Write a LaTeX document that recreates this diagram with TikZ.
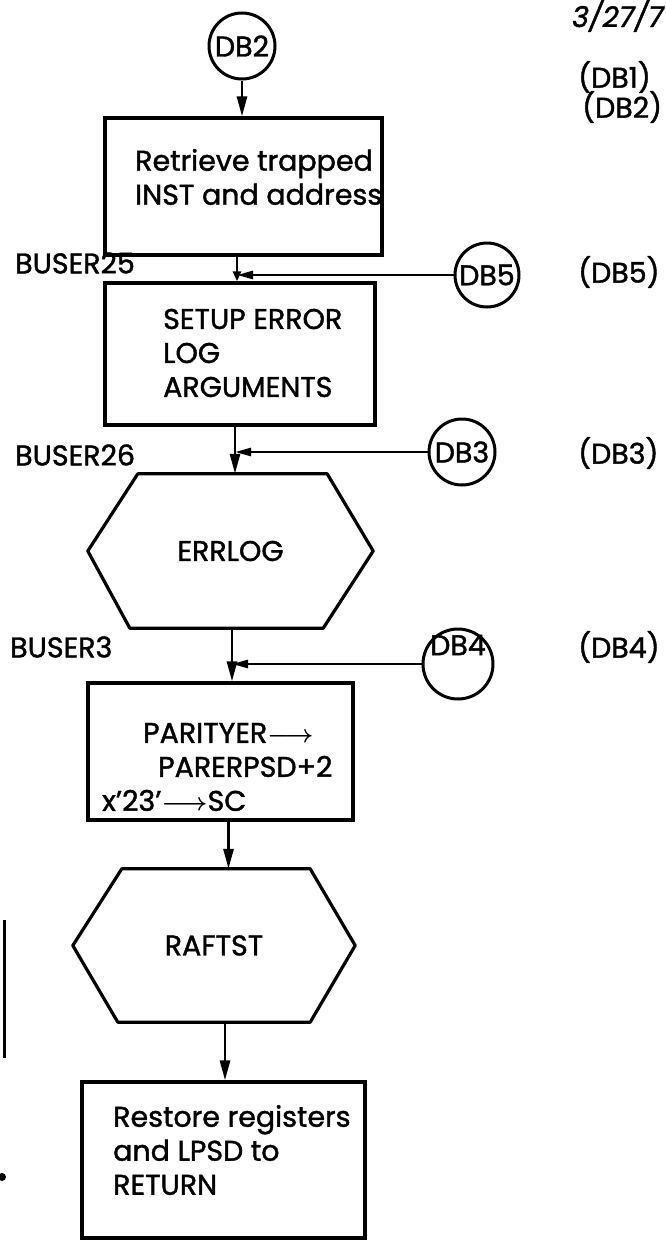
\documentclass[tikz,border=0pt]{standalone}
\usepackage{fontspec}
\setmainfont{Poppins}[FakeBold=1.4]
\usetikzlibrary{arrows.meta, positioning, calc}

\begin{document}
\begin{tikzpicture}[x=1pt, y=-1pt, font=\fontsize{28.5}{34}\selectfont,
  procbox/.style={draw, line width=3.2pt, inner sep=0pt},
  hexnode/.style={inner sep=0pt},
  hexline/.style={line width=3.2pt, line join=round},
  conn/.style={draw, circle, line width=3pt, inner sep=0pt, minimum size=64pt},
  boxtext/.style={anchor=west, align=left, inner sep=0pt},
  tag/.style={anchor=west, inner sep=0pt},
  busertag/.style={anchor=west, inner sep=0pt},
  flow/.style={line width=2.8pt, -{Triangle[length=20pt, width=10pt]}},
  joinarrow/.style={line width=2.6pt, -{Triangle[length=16pt, width=8pt]}}
]
  \useasboundingbox (0,0) rectangle (665,1245);

  % header and connector index
  \node[tag, font=\itshape\fontsize{28.5}{34}\selectfont] (date) at (572,16) {3/27/7};
  \node[tag] (idx1) at (578,77) {(DB1)};
  \node[tag] (idx2) at (582,107) {(DB2)};
  \node[tag] (idx5) at (578,272) {(DB5)};
  \node[tag] (idx3) at (578,453) {(DB3)};
  \node[tag] (idx4) at (578,647) {(DB4)};

  % off-page connectors
  \node[conn, minimum size=66pt] (db2) at (242,46) {DB2};
  \node[conn] (db5) at (487,275) {DB5};
  \node[conn, minimum size=66pt] (db3) at (462,452) {DB3};
  \node[conn, minimum size=70pt] (db4) at (458,664) {};
  \node[inner sep=0pt] (db4txt) at (458,645) {DB4};

  % process boxes
  \node[procbox, minimum width=277pt, minimum height=137pt] (retrieve) at (243.5,186.5) {};
  \node[boxtext] (retrievetxt) at (135,177) {Retrieve trapped\\INST and address};
  \node[procbox, minimum width=270pt, minimum height=142pt] (setup) at (240,354) {};
  \node[boxtext] (setuptxt) at (163,353) {SETUP ERROR\\LOG\\ARGUMENTS};
  \node[procbox, minimum width=265pt, minimum height=137pt] (parity) at (220.5,751.5) {};
  \node[boxtext] (paritytxt) at (102,767) {\hspace*{41pt}PARITYER{\boldmath$\longrightarrow$}\\\hspace*{56pt}PARERPSD+2\\x'23'{\boldmath$\longrightarrow$}SC};
  \node[procbox, minimum width=283pt, minimum height=156pt] (restore) at (223.5,1160) {};
  \node[boxtext] (restoretxt) at (113,1150) {Restore registers\\and LPSD to\\RETURN};

  % subroutine calls
  \node[hexnode, minimum width=285pt, minimum height=154pt] (errlog) at (230.5,551) {ERRLOG};
  \draw[hexline] ($(errlog.north west)+(50,0)$) -- ($(errlog.north east)+(-46,0)$) -- (errlog.east)
    -- ($(errlog.south east)+(-50,0)$) -- ($(errlog.south west)+(42,0)$) -- (errlog.west) -- cycle;
  \node[hexnode, minimum width=282pt, minimum height=153pt] (raftst) at (214,945.5) {RAFTST};
  \draw[hexline] ($(raftst.north west)+(49,0)$) -- ($(raftst.north east)+(-45,0)$) -- (raftst.east)
    -- ($(raftst.south east)+(-45,0)$) -- ($(raftst.south west)+(45,0)$) -- (raftst.west) -- cycle;

  % entry labels
  \node[busertag] (buser25) at (15,263) {BUSER25};
  \node[busertag] (buser26) at (15,455) {BUSER26};
  \node[busertag] (buser3) at (10,647) {BUSER3};

  % flow lines
  \coordinate (j25) at (237,275);
  \coordinate (j26) at (235,452);
  \coordinate (j3) at (232,664);
  \draw[flow] (db2) -- (db2 |- retrieve.north);
  \draw[line width=2.8pt, -{Triangle[length=10pt, width=8pt]}] (retrieve.south -| j25) -- (setup.north -| j25);
  \draw[joinarrow] (db5) -- (j25);
  \draw[flow] (setup.south -| j26) -- (errlog.north -| j26);
  \draw[joinarrow] (db3) -- (j26);
  \draw[flow] (errlog.south -| j3) -- (parity.north -| j3);
  \draw[joinarrow] (db4) -- (j3);
  \draw[flow] ([xshift=8pt]parity.south) -- ([xshift=8pt]parity.south |- raftst.north);
  \draw[flow] ([xshift=11pt]raftst.south) -- ([xshift=11pt]raftst.south |- restore.north);

  % margin marks
  \draw[line width=3pt] (4,920) -- (4,1058);
  \fill (2,1177) circle (4pt);
\end{tikzpicture}
\end{document}
